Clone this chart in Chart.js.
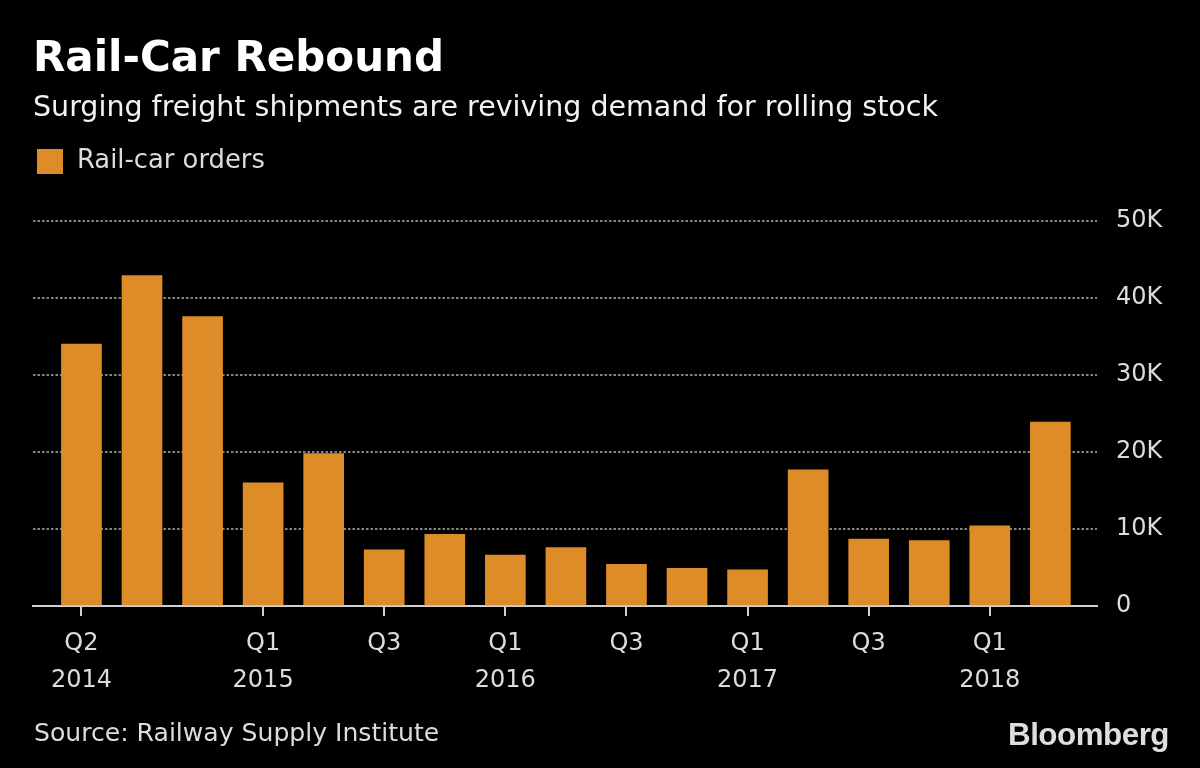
<!DOCTYPE html>
<html>
<head>
<meta charset="utf-8">
<script src="https://cdn.jsdelivr.net/npm/chart.js@4.4.0/dist/chart.umd.min.js"></script>
<style>
html,body{margin:0;padding:0;background:#000;width:1200px;height:768px;overflow:hidden}
#wrap{position:relative;width:1200px;height:768px;background:#000}
canvas{position:absolute;left:0;top:0}
.t{position:absolute;white-space:nowrap;line-height:1;font-family:'DejaVu Sans',sans-serif;color:#dcdcdc}
#title{left:33px;top:36px;font-size:42px;font-weight:bold;color:#fff}
#subtitle{left:33px;top:93px;font-size:28.5px;color:#f2f2f2}
#legend{position:absolute;left:37px;top:149px;width:260px;height:25px}
#legend .box{position:absolute;left:0;top:0;width:26px;height:25px;background:#DE8C28}
#legend .lab{left:40px;top:-2.5px;font-size:25.8px}
#source{left:34px;top:720px;font-size:25.1px}
#logo{left:1008px;top:719px;font-size:31px;letter-spacing:-0.5px;font-weight:bold;font-family:'Liberation Sans',Arial,sans-serif;color:#dedede;transform-origin:0 0}
</style>
</head>
<body>
<div id="wrap">
  <canvas id="c" width="1200" height="768"></canvas>
  <div class="t" id="title">Rail-Car Rebound</div>
  <div class="t" id="subtitle">Surging freight shipments are reviving demand for rolling stock</div>
  <div id="legend"><div class="box"></div><div class="t lab">Rail-car orders</div></div>
  <div class="t" id="source">Source: Railway Supply Institute</div>
  <div class="t" id="logo">Bloomberg</div>
</div>
<script>
// ---- data ----
const categories = ['Q2 2014','Q3 2014','Q4 2014','Q1 2015','Q2 2015','Q3 2015','Q4 2015','Q1 2016','Q2 2016','Q3 2016','Q4 2016','Q1 2017','Q2 2017','Q3 2017','Q4 2017','Q1 2018','Q2 2018'];
const orders = [34000,42900,37600,16000,19800,7300,9300,6600,7600,5400,4900,4700,17700,8700,8500,10400,23900];
const xTickIndex = [0,3,5,7,9,11,13,15];
const xTickLabels = [['Q2','2014'],['Q1','2015'],['Q3'],['Q1','2016'],['Q3'],['Q1','2017'],['Q3'],['Q1','2018']];
const yTickValues = [0,10000,20000,30000,40000,50000];
const yTickLabels = ['0','10K','20K','30K','40K','50K'];
const seriesName = 'Rail-car orders';

// logo fit
(function(){
  const lg=document.getElementById('logo');
  const w=lg.getBoundingClientRect().width;
  lg.style.transform='scaleX('+(161/w)+')';
})();

const FONT = "'DejaVu Sans', sans-serif";
const BAR = '#DE8C28';

new Chart(document.getElementById('c'), {
  type: 'bar',
  data: {
    datasets: [{
      label: seriesName,
      data: orders.map((v,i)=>({x:i, y:v})),
      backgroundColor: BAR,
      borderWidth: 0,
      barThickness: 40
    }]
  },
  options: {
    responsive: false,
    animation: false,
    devicePixelRatio: 1,
    layout: { padding: { left: 33, top: 221, right: 0, bottom: 62 } },
    plugins: { legend: { display: false }, tooltip: { enabled: false } },
    scales: {
      x: {
        type: 'linear',
        bounds: 'data',
        offset: false,
        min: -0.8,
        max: 16.77,
        grid: { offset: false, drawOnChartArea: false, drawTicks: true, tickLength: 10, tickColor: '#cfcfcf', tickWidth: 2, color: '#cfcfcf', lineWidth: 2 },
        border: { display: true, color: '#cfcfcf', width: 2 },
        afterBuildTicks: s => { s.ticks = xTickIndex.map(v => ({ value: v })); },
        afterFit: s => { s.height = 100; },
        ticks: {
          autoSkip: false, maxRotation: 0, minRotation: 0, padding: 10,
          color: '#dcdcdc',
          font: { family: FONT, size: 24, lineHeight: 1.52 },
          callback: v => { const k = xTickIndex.indexOf(v); return k >= 0 ? xTickLabels[k] : ''; }
        }
      },
      y: {
        position: 'right',
        min: 0, max: 50000,
        afterBuildTicks: s => { s.ticks = yTickValues.map(v => ({ value: v })); },
        afterFit: s => { s.width = 103; },
        grid: {
          drawTicks: false, tickLength: 0, lineWidth: 2,
          color: c => (c.tick && c.tick.value === 0) ? 'rgba(0,0,0,0)' : '#858585'
        },
        border: { display: false, dash: [2.5, 2] },
        ticks: {
          padding: 19, color: '#dcdcdc',
          font: { family: FONT, size: 24 },
          callback: v => { const k = yTickValues.indexOf(v); return k >= 0 ? yTickLabels[k] : ''; }
        }
      }
    }
  }
});
</script>
</body>
</html>
